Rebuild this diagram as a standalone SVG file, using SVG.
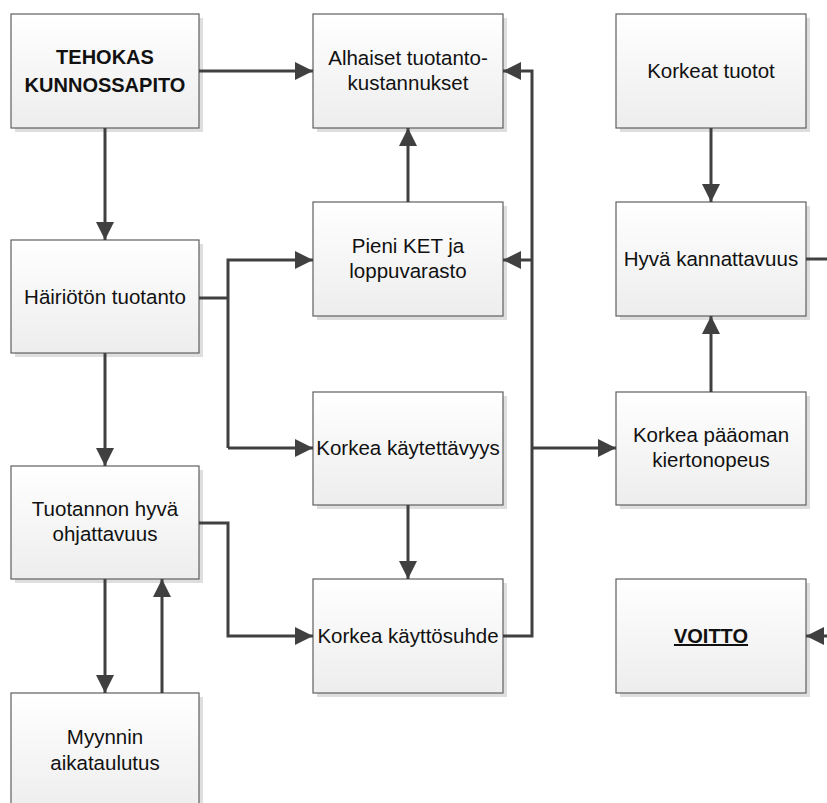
<svg xmlns="http://www.w3.org/2000/svg" width="827" height="803" viewBox="0 0 827 803">
<defs>
<linearGradient id="g" x1="0" y1="0" x2="0" y2="1">
<stop offset="0" stop-color="#ffffff"/>
<stop offset="1" stop-color="#ededed"/>
</linearGradient>
<marker id="ah" markerUnits="userSpaceOnUse" markerWidth="18" markerHeight="18" refX="18" refY="9" orient="auto" viewBox="0 0 18 18">
<path d="M0,0 L18,9 L0,18 z" fill="#404040"/>
</marker>
<style>
.sh{fill:#dedede}
.bx{fill:url(#g);stroke:#5f5f5f;stroke-width:1.2}
.t{font-family:"Liberation Sans",Arial,sans-serif;font-size:20.5px;fill:#111;text-anchor:middle}
.b{font-weight:bold;font-size:20px}
.c{fill:none;stroke:#404040;stroke-width:3}
.a{marker-end:url(#ah)}
</style>
</defs>
<g id="n-tehokas">
<rect class="sh" x="15" y="18" width="188" height="114"/>
<rect class="bx" x="11" y="14" width="188" height="114"/>
<text class="t b" x="105" y="64">TEHOKAS</text>
<text class="t b" x="105" y="92">KUNNOSSAPITO</text>
</g>
<g id="n-alhaiset">
<rect class="sh" x="317" y="18" width="190" height="114"/>
<rect class="bx" x="313" y="14" width="190" height="114"/>
<text class="t" x="408" y="65">Alhaiset tuotanto-</text>
<text class="t" x="408" y="90">kustannukset</text>
</g>
<g id="n-korkeat-tuotot">
<rect class="sh" x="620" y="18" width="190" height="114"/>
<rect class="bx" x="616" y="14" width="190" height="114"/>
<text class="t" x="711" y="78">Korkeat tuotot</text>
</g>
<g id="n-hairioton">
<rect class="sh" x="15" y="244" width="188" height="113"/>
<rect class="bx" x="11" y="240" width="188" height="113"/>
<text class="t" x="105" y="304">Häiriötön tuotanto</text>
</g>
<g id="n-pieni-ket">
<rect class="sh" x="317" y="206" width="190" height="114"/>
<rect class="bx" x="313" y="202" width="190" height="114"/>
<text class="t" x="408" y="253">Pieni KET ja</text>
<text class="t" x="408" y="278">loppuvarasto</text>
</g>
<g id="n-hyva-kannattavuus">
<rect class="sh" x="620" y="206" width="190" height="114"/>
<rect class="bx" x="616" y="202" width="190" height="114"/>
<text class="t" x="711" y="266">Hyvä kannattavuus</text>
</g>
<g id="n-korkea-kaytettavyys">
<rect class="sh" x="317" y="396" width="190" height="113"/>
<rect class="bx" x="313" y="392" width="190" height="113"/>
<text class="t" x="408" y="455">Korkea käytettävyys</text>
</g>
<g id="n-korkea-paaoman">
<rect class="sh" x="620" y="396" width="190" height="113"/>
<rect class="bx" x="616" y="392" width="190" height="113"/>
<text class="t" x="711" y="442">Korkea pääoman</text>
<text class="t" x="711" y="467">kiertonopeus</text>
</g>
<g id="n-tuotannon">
<rect class="sh" x="15" y="470" width="188" height="113"/>
<rect class="bx" x="11" y="466" width="188" height="113"/>
<text class="t" x="105" y="516">Tuotannon hyvä</text>
<text class="t" x="105" y="541">ohjattavuus</text>
</g>
<g id="n-korkea-kayttosuhde">
<rect class="sh" x="317" y="583" width="190" height="114"/>
<rect class="bx" x="313" y="579" width="190" height="114"/>
<text class="t" x="408" y="643">Korkea käyttösuhde</text>
</g>
<g id="n-voitto">
<rect class="sh" x="620" y="583" width="190" height="114"/>
<rect class="bx" x="616" y="579" width="190" height="114"/>
<text class="t b" x="711" y="643" font-size="21" text-decoration="underline">VOITTO</text>
</g>
<g id="n-myynnin">
<rect class="sh" x="15" y="697" width="188" height="120"/>
<rect class="bx" x="11" y="693" width="188" height="120"/>
<text class="t" x="105" y="744">Myynnin</text>
<text class="t" x="105" y="770">aikataulutus</text>
</g>
<g id="connectors">
<path class="c a" d="M199,71 H313"/>
<path class="c a" d="M105,128 V240"/>
<path class="c" d="M199,298 H228"/>
<path class="c a" d="M228,448 V260 H313"/>
<path class="c a" d="M228,448 H313"/>
<path class="c a" d="M105,353 V466"/>
<path class="c a" d="M199,523 H228 V636 H313"/>
<path class="c a" d="M105,579 V693"/>
<path class="c a" d="M162,693 V579"/>
<path class="c a" d="M408,202 V128"/>
<path class="c a" d="M408,505 V579"/>
<path class="c a" d="M503,636 H532 V71 H503"/>
<path class="c a" d="M532,260 H503"/>
<path class="c a" d="M532,448 H616"/>
<path class="c a" d="M711,128 V202"/>
<path class="c a" d="M711,392 V316"/>
<path class="c" d="M806,259 H827"/>
<path class="c a" d="M827,636 H806"/>
</g>
</svg>
